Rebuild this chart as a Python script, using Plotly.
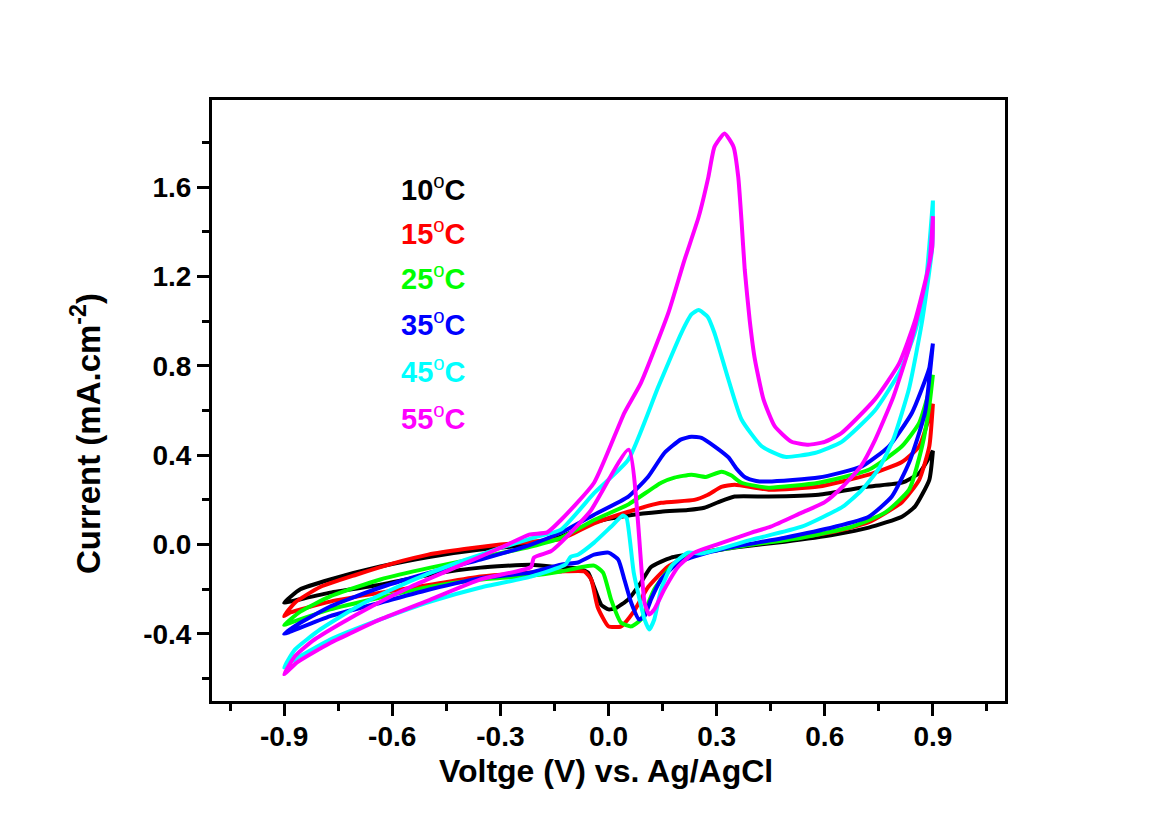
import plotly.graph_objects as go

# ---------------- data ----------------
labels = ["10", "15", "25", "35", "45", "55"]
colors = ["#000000", "#FF0000", "#00FF00", "#0000FF", "#00FFFF", "#FF00FF"]

# 10 C
black_fx = [-0.9, -0.855, -0.772, -0.633, -0.494, -0.355, -0.215, -0.132, -0.04, 0.055, 0.146, 0.22, 0.266, 0.305, 0.35, 0.444, 0.583, 0.722, 0.814, 0.862, 0.9]
black_fy = [-0.26, -0.2, -0.156, -0.098, -0.054, -0.022, 0.0, 0.036, 0.1, 0.13, 0.147, 0.155, 0.165, 0.19, 0.215, 0.215, 0.223, 0.26, 0.277, 0.32, 0.42]
black_rx = [0.9, 0.89, 0.85, 0.814, 0.722, 0.628, 0.489, 0.35, 0.258, 0.174, 0.118, 0.09, 0.055, 0.02, 0.0, -0.02, -0.04, -0.057, -0.09, -0.132, -0.215, -0.355, -0.494, -0.633, -0.772, -0.883, -0.9]
black_ry = [0.42, 0.29, 0.17, 0.125, 0.076, 0.045, 0.013, -0.013, -0.036, -0.058, -0.1, -0.17, -0.245, -0.285, -0.29, -0.27, -0.19, -0.125, -0.105, -0.103, -0.09, -0.103, -0.134, -0.18, -0.215, -0.255, -0.26]

# 15 C
red_fx = [-0.9, -0.87, -0.8, -0.7, -0.6, -0.5, -0.4, -0.3, -0.2, -0.132, -0.04, 0.055, 0.146, 0.238, 0.276, 0.313, 0.35, 0.444, 0.583, 0.722, 0.814, 0.862, 0.9]
red_fy = [-0.32, -0.26, -0.19, -0.135, -0.085, -0.045, -0.02, 0.0, 0.015, 0.025, 0.095, 0.147, 0.187, 0.2, 0.223, 0.258, 0.268, 0.246, 0.26, 0.313, 0.37, 0.44, 0.63]
red_rx = [0.9, 0.89, 0.862, 0.814, 0.722, 0.628, 0.489, 0.35, 0.258, 0.22, 0.165, 0.11, 0.07, 0.035, 0.0, -0.03, -0.048, -0.067, -0.132, -0.215, -0.355, -0.494, -0.633, -0.772, -0.883, -0.9]
red_ry = [0.63, 0.44, 0.29, 0.19, 0.1, 0.058, 0.022, -0.009, -0.036, -0.054, -0.098, -0.19, -0.3, -0.366, -0.366, -0.28, -0.156, -0.12, -0.12, -0.125, -0.143, -0.18, -0.215, -0.255, -0.304, -0.32]

# 25 C
green_fx = [-0.9, -0.855, -0.772, -0.633, -0.494, -0.355, -0.215, -0.132, -0.04, 0.055, 0.146, 0.183, 0.23, 0.27, 0.313, 0.34, 0.369, 0.444, 0.583, 0.722, 0.814, 0.862, 0.898, 0.9]
green_fy = [-0.36, -0.3, -0.232, -0.156, -0.103, -0.058, -0.009, 0.03, 0.11, 0.18, 0.277, 0.3, 0.313, 0.303, 0.326, 0.31, 0.277, 0.255, 0.277, 0.335, 0.44, 0.545, 0.737, 0.76]
green_rx = [0.9, 0.89, 0.87, 0.834, 0.767, 0.675, 0.536, 0.397, 0.258, 0.22, 0.174, 0.127, 0.09, 0.063, 0.035, 0.007, -0.015, -0.04, -0.132, -0.215, -0.355, -0.494, -0.633, -0.772, -0.883, -0.9]
green_ry = [0.76, 0.62, 0.44, 0.246, 0.143, 0.08, 0.031, 0.0, -0.036, -0.045, -0.098, -0.2, -0.335, -0.366, -0.35, -0.245, -0.125, -0.094, -0.12, -0.139, -0.156, -0.188, -0.237, -0.29, -0.35, -0.36]

# 35 C
blue_fx = [-0.9, -0.855, -0.772, -0.633, -0.494, -0.355, -0.215, -0.132, -0.04, 0.055, 0.11, 0.155, 0.2, 0.23, 0.258, 0.294, 0.333, 0.355, 0.38, 0.41, 0.444, 0.583, 0.703, 0.778, 0.842, 0.89, 0.9]
blue_fy = [-0.4, -0.35, -0.277, -0.192, -0.125, -0.067, 0.0, 0.054, 0.134, 0.215, 0.304, 0.41, 0.47, 0.483, 0.478, 0.44, 0.39, 0.34, 0.3, 0.285, 0.282, 0.3, 0.35, 0.44, 0.59, 0.79, 0.9]
blue_rx = [0.9, 0.878, 0.834, 0.786, 0.722, 0.628, 0.489, 0.35, 0.266, 0.194, 0.146, 0.118, 0.1, 0.085, 0.063, 0.044, 0.027, 0.0, -0.04, -0.085, -0.132, -0.215, -0.355, -0.494, -0.633, -0.772, -0.883, -0.9]
blue_ry = [0.9, 0.59, 0.367, 0.215, 0.125, 0.08, 0.031, -0.009, -0.04, -0.08, -0.156, -0.245, -0.32, -0.335, -0.26, -0.156, -0.067, -0.036, -0.045, -0.08, -0.09, -0.125, -0.15, -0.2, -0.26, -0.32, -0.39, -0.4]

# 45 C
cyan_fx = [-0.9, -0.87, -0.8, -0.7, -0.6, -0.5, -0.4, -0.3, -0.2, -0.132, -0.04, 0.055, 0.138, 0.202, 0.23, 0.25, 0.275, 0.294, 0.333, 0.369, 0.425, 0.489, 0.572, 0.647, 0.739, 0.81, 0.85, 0.878, 0.9]
cyan_fy = [-0.55, -0.47, -0.38, -0.28, -0.2, -0.13, -0.07, -0.015, 0.035, 0.067, 0.23, 0.38, 0.706, 0.947, 1.03, 1.05, 1.02, 0.947, 0.737, 0.56, 0.44, 0.393, 0.41, 0.46, 0.6, 0.78, 0.95, 1.14, 1.54]
cyan_rx = [0.9, 0.898, 0.87, 0.834, 0.79, 0.75, 0.7, 0.65, 0.536, 0.397, 0.258, 0.22, 0.174, 0.146, 0.127, 0.113, 0.1, 0.07, 0.05, 0.04, 0.007, -0.04, -0.085, -0.105, -0.12, -0.215, -0.355, -0.494, -0.633, -0.772, -0.883, -0.9]
cyan_ry = [1.54, 1.33, 1.0, 0.7, 0.47, 0.34, 0.24, 0.17, 0.08, 0.022, -0.04, -0.036, -0.098, -0.2, -0.335, -0.38, -0.335, -0.125, 0.12, 0.13, 0.08, 0.009, -0.045, -0.055, -0.09, -0.143, -0.192, -0.255, -0.335, -0.425, -0.527, -0.55]

# 55 C
mag_fx = [-0.9, -0.87, -0.82, -0.75, -0.65, -0.55, -0.45, -0.35, -0.28, -0.22, -0.17, -0.132, -0.04, 0.044, 0.09, 0.166, 0.21, 0.25, 0.277, 0.294, 0.322, 0.347, 0.36, 0.369, 0.378, 0.392, 0.406, 0.43, 0.461, 0.508, 0.555, 0.6, 0.647, 0.739, 0.806, 0.85, 0.89, 0.9]
mag_fy = [-0.58, -0.5, -0.43, -0.36, -0.27, -0.19, -0.12, -0.05, 0.0, 0.045, 0.055, 0.11, 0.277, 0.59, 0.724, 1.037, 1.27, 1.466, 1.645, 1.78, 1.84, 1.78, 1.645, 1.45, 1.23, 1.0, 0.83, 0.65, 0.53, 0.46, 0.447, 0.46, 0.5, 0.65, 0.81, 1.0, 1.26, 1.47]
mag_rx = [0.9, 0.898, 0.87, 0.834, 0.79, 0.74, 0.7, 0.65, 0.6, 0.536, 0.45, 0.397, 0.3, 0.238, 0.194, 0.155, 0.127, 0.113, 0.1, 0.056, -0.05, -0.132, -0.16, -0.207, -0.215, -0.355, -0.494, -0.633, -0.772, -0.864, -0.9]
mag_ry = [1.47, 1.33, 1.11, 0.88, 0.66, 0.47, 0.35, 0.26, 0.19, 0.143, 0.08, 0.054, 0.0, -0.036, -0.098, -0.2, -0.29, -0.313, -0.26, 0.425, 0.15, 0.009, -0.03, -0.058, -0.1, -0.156, -0.246, -0.335, -0.44, -0.527, -0.58]

x_tickvals = [-0.9, -0.6, -0.3, 0.0, 0.3, 0.6, 0.9]
x_ticktext = ["-0.9", "-0.6", "-0.3", "0.0", "0.3", "0.6", "0.9"]
y_tickvals = [-0.4, 0.0, 0.4, 0.8, 1.2, 1.6]
y_ticktext = ["-0.4", "0.0", "0.4", "0.8", "1.2", "1.6"]

series = [
    (black_fx, black_fy, black_rx, black_ry),
    (red_fx, red_fy, red_rx, red_ry),
    (green_fx, green_fy, green_rx, green_ry),
    (blue_fx, blue_fy, blue_rx, blue_ry),
    (cyan_fx, cyan_fy, cyan_rx, cyan_ry),
    (mag_fx, mag_fy, mag_rx, mag_ry),
]

# ---------------- figure ----------------
W, H = 1156, 835
L, R, T, B = 212, 151, 100, 134
PW, PH = W - L - R, H - T - B

def px(xp):
    return (xp - L) / PW

def py(yp):
    return (H - B - yp) / PH

FONT = "Liberation Sans, Arial, sans-serif"

fig = go.Figure()
for (fx, fy, rx, ry), lab, col in zip(series, labels, colors):
    fig.add_trace(go.Scatter(
        x=list(fx) + list(rx), y=list(fy) + list(ry),
        mode="lines", name=lab + "°C",
        line=dict(color=col, width=4, shape="spline", smoothing=0.5),
        showlegend=False,
    ))

axis_common = dict(
    showline=True, linewidth=3, linecolor="black", mirror=True,
    ticks="outside", ticklen=12, tickwidth=3, tickcolor="black",
    showgrid=False, zeroline=False,
    tickfont=dict(family=FONT, size=28, color="black", weight="bold"),
)

fig.update_layout(
    width=W, height=H,
    margin=dict(l=L, r=R, t=T, b=B, pad=0),
    paper_bgcolor="white", plot_bgcolor="white",
    xaxis=dict(range=[-1.1, 1.1], tickvals=x_tickvals, ticktext=x_ticktext,
               ticklabelstandoff=-4,
               minor=dict(dtick=0.15, tick0=-1.05, ticks="outside", ticklen=7,
                          tickwidth=3, tickcolor="black", showgrid=False),
               **axis_common),
    yaxis=dict(range=[-0.7, 1.99], tickvals=y_tickvals, ticktext=y_ticktext,
               minor=dict(dtick=0.2, tick0=0.0, ticks="outside", ticklen=7,
                          tickwidth=3, tickcolor="black", showgrid=False),
               **axis_common),
)

annotations = []
legend_y = [188, 232, 277, 323, 370, 417]
for lab, col, yy in zip(labels, colors, legend_y):
    annotations.append(dict(
        xref="paper", yref="paper", x=px(399), y=py(yy),
        xanchor="left", yanchor="middle", showarrow=False,
        text=lab + "<sup><span style='font-weight:normal'>o</span></sup>C",
        font=dict(family=FONT, size=29, color=col, weight="bold"),
    ))
annotations.append(dict(
    xref="paper", yref="paper", x=px(606), y=py(771),
    xanchor="center", yanchor="middle", showarrow=False,
    text="Voltge (V) vs. Ag/AgCl",
    font=dict(family=FONT, size=32, color="black", weight="bold"),
))
annotations.append(dict(
    xref="paper", yref="paper", x=px(86), y=py(433),
    xanchor="center", yanchor="middle", showarrow=False, textangle=-90,
    text="Current (mA.cm<sup>-2</sup>)",
    font=dict(family=FONT, size=33, color="black", weight="bold"),
))
fig.update_layout(annotations=annotations)

fig.write_html("out.html")
